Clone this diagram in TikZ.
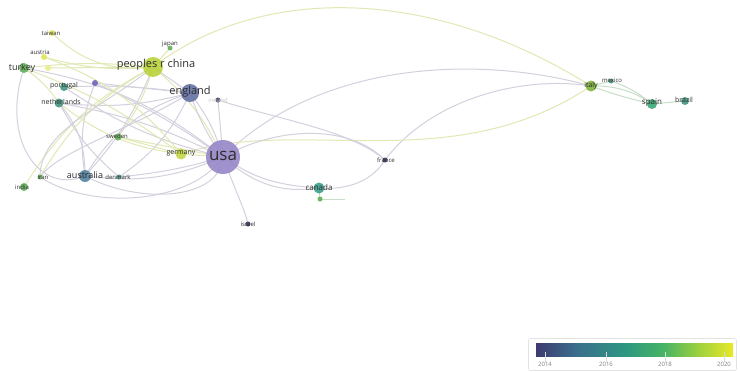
\documentclass[tikz,border=0pt]{standalone}
\usepackage{fontspec}
\setmainfont{Open Sans}
\pgfdeclarelayer{background}
\pgfsetlayers{background,main}
\definecolor{cusa}{RGB}{150,135,200}
\definecolor{ceng}{RGB}{100,115,165}
\definecolor{cchina}{RGB}{185,210,60}
\definecolor{cgerm}{RGB}{195,215,70}
\definecolor{cyel}{RGB}{225,230,90}
\definecolor{cgreen}{RGB}{100,175,90}
\definecolor{cteal}{RGB}{70,150,130}
\definecolor{caus}{RGB}{85,130,160}
\definecolor{ccan}{RGB}{60,160,140}
\definecolor{citaly}{RGB}{125,180,60}
\definecolor{cspain}{RGB}{60,170,120}
\definecolor{cdark}{RGB}{60,60,100}
\definecolor{cpurp}{RGB}{110,100,180}
\definecolor{edgeA}{RGB}{212,208,222}
\definecolor{edgeB}{RGB}{226,232,180}
\definecolor{edgeC}{RGB}{200,222,200}
\definecolor{lbl}{RGB}{45,45,45}
\definecolor{v1}{RGB}{62,58,112}
\definecolor{v2}{RGB}{58,110,140}
\definecolor{v3}{RGB}{45,150,130}
\definecolor{v4}{RGB}{70,180,100}
\definecolor{v5}{RGB}{160,210,60}
\definecolor{v6}{RGB}{232,232,40}
\tikzset{
  vn/.style={circle, inner sep=0pt, minimum size=#1, fill opacity=0.9},
  lab/.style={text=lbl, inner sep=0pt, font=\fontsize{#1}{#1}\selectfont},
  faint/.style={text=lbl!25, inner sep=0pt, font=\fontsize{6}{6}\selectfont},
  ea/.style={draw=edgeA, line width=1pt},
  eb/.style={draw=edgeB, line width=1pt},
  ec/.style={draw=edgeC, line width=1pt},
  tick/.style={draw=white!70!gray, line width=0.5pt}
}
\begin{document}
\begin{tikzpicture}[x=1pt,y=-1pt]
\useasboundingbox (0,0) rectangle (740,372);
% nodes
\node[vn=34, fill=cusa] (usa) at (223,157) {};
\node[vn=18, fill=ceng] (england) at (190,93) {};
\node[vn=5, fill=cdark] (ireland) at (218,100) {};
\node[vn=20, fill=cchina] (china) at (153,67) {};
\node[vn=5, fill=cgreen] (japan) at (170,48) {};
\node[vn=6, fill=cyel] (taiwan) at (52,33) {};
\node[vn=6, fill=cyel] (austria) at (44,57) {};
\node[vn=10, fill=cgreen] (turkey) at (24,68) {};
\node[vn=6, fill=cyel!70!white] (korea) at (48,68) {};
\node[vn=8, fill=cteal] (portugal) at (64,87) {};
\node[vn=6, fill=cpurp] (scot) at (95,83) {};
\node[vn=9, fill=cteal] (neth) at (59,103) {};
\node[vn=7, fill=cgreen] (sweden) at (118,137) {};
\node[vn=11, fill=cgerm] (germany) at (181,154) {};
\node[vn=5, fill=cgreen] (iran) at (40,177) {};
\node[vn=8, fill=cgreen] (india) at (24,187) {};
\node[vn=12, fill=caus] (australia) at (85,176) {};
\node[vn=5, fill=cteal] (denmark) at (119,177) {};
\node[vn=11, fill=ccan] (canada) at (319,188) {};
\node[vn=5, fill=cgreen] (sing) at (320,199) {};
\node[vn=5, fill=cdark] (israel) at (248,224) {};
\node[vn=5, fill=cdark] (france) at (385,160) {};
\node[vn=11, fill=citaly] (italy) at (591,86) {};
\node[vn=5, fill=cteal] (mexico) at (611,81) {};
\node[vn=10, fill=cspain] (spain) at (652,104) {};
\node[vn=8, fill=cteal] (brazil) at (685,101) {};
% labels
\node[lab=17] (lusa) at (223,156) {usa};
\node[lab=11] (leng) at (190,92) {england};
\node[faint] (lire) at (218,100) {ireland};
\node[lab=11] (lchina) at (156,65) {peoples r china};
\node[lab=6] (ljapan) at (170,44) {japan};
\node[lab=6] (ltaiwan) at (51,33) {taiwan};
\node[lab=6] (laustria) at (40,52) {austria};
\node[lab=9] (lturkey) at (22,68) {turkey};
\node[lab=7] (lport) at (64,86) {portugal};
\node[lab=7] (lneth) at (61,102) {netherlands};
\node[lab=6] (lsweden) at (117,136) {sweden};
\node[lab=7] (lgerm) at (181,153) {germany};
\node[lab=6] (liran) at (43,177) {iran};
\node[lab=6] (lindia) at (22,187) {india};
\node[lab=9] (laus) at (85,175) {australia};
\node[lab=6] (lden) at (118,177) {denmark};
\node[lab=8] (lcan) at (319,187) {canada};
\node[lab=6] (lisrael) at (248,224) {israel};
\node[lab=6] (lfrance) at (386,160) {france};
\node[lab=7] (litaly) at (591,86) {italy};
\node[lab=6] (lmexico) at (612,80) {mexico};
\node[lab=8] (lspain) at (652,103) {spain};
\node[lab=7] (lbrazil) at (684,100) {brazil};
% legend
\node[draw=white!78!gray, line width=0.6pt, rounded corners=1.5pt, minimum width=208pt, minimum height=32pt, inner sep=0pt] (legend) at (632.5,354.5) {};
\node[lab=6, text=gray] (y14) at (545,364) {2014};
\node[lab=6, text=gray] (y16) at (606,364) {2016};
\node[lab=6, text=gray] (y18) at (665,364) {2018};
\node[lab=6, text=gray] (y20) at (724,364) {2020};
\begin{pgfonlayer}{background}
\fill[white] (0,0) rectangle (740,372);
% colour bar
\shade[left color=v1, right color=v2] (536,343) rectangle (576,356);
\shade[left color=v2, right color=v3] (575.5,343) rectangle (625,356);
\shade[left color=v3, right color=v4] (624.5,343) rectangle (664,356);
\shade[left color=v4, right color=v5] (663.5,343) rectangle (700,356);
\shade[left color=v5, right color=v6] (699.5,343) rectangle (733,356);
\draw[tick] (545,352) -- (y14.north);
\draw[tick] (606,352) -- (y16.north);
\draw[tick] (665,352) -- (y18.north);
\draw[tick] (724,352) -- (y20.north);
% long arcs
\draw[eb] (china.center) .. controls (260,-15) and (430,-15) .. (italy.center);
\draw[ea] (usa.center) .. controls (320,60) and (480,55) .. (italy.center);
\draw[ea] (france.center) .. controls (430,100) and (520,75) .. (italy.center);
\draw[eb] (germany.center) .. controls (300,115) and (450,180) .. (italy.center);
\draw[ea] (ireland.center) .. controls (280,120) and (350,130) .. (france.center);
\draw[ea] (usa.center) .. controls (280,125) and (350,125) .. (france.center);
\draw[ea] (france.center) .. controls (370,185) and (340,190) .. (canada.center);
\draw[ea] (usa.center) .. controls (260,190) and (290,192) .. (canada.center);
\draw[ea] (usa.center) .. controls (250,175) and (270,185) .. (canada.center);
\draw[ec] (canada.center) -- (sing.center);
\draw[ec] (sing.center) -- (345,199);
\draw[ea] (usa.center) .. controls (235,190) and (245,210) .. (israel.center);
% right cluster
\draw[ec] (italy.center) -- (mexico.center);
\draw[ec] (italy.center) .. controls (620,85) and (640,95) .. (spain.center);
\draw[ec] (italy.center) .. controls (615,95) and (635,100) .. (spain.center);
\draw[ec] (mexico.center) to[bend left=10] (spain.center);
\draw[ec] (spain.center) -- (brazil.center);
% left cluster
\draw[eb] (china.center) to[bend left=12] (usa.center);
\draw[ea] (england.center) to[bend right=8] (usa.center);
\draw[ea] (england.center) to[bend left=10] (usa.center);
\draw[ea] (ireland.center) -- (usa.center);
\draw[ea] (china.center) -- (england.center);
\draw[eb] (turkey.center) to[bend left=6] (china.center);
\draw[eb] (taiwan.center) to[bend right=25] (china.center);
\draw[eb] (austria.center) to[bend right=10] (china.center);
\draw[eb] (japan.center) -- (china.center);
\draw[ea] (portugal.center) to[bend left=5] (england.center);
\draw[ea] (neth.center) to[bend right=10] (england.center);
\draw[ea] (neth.center) to[bend left=8] (usa.center);
\draw[ea] (portugal.center) to[bend right=10] (usa.center);
\draw[eb] (turkey.center) to[bend left=8] (germany.center);
\draw[ea] (turkey.center) to[bend left=14] (usa.center);
\draw[ea] (scot.center) -- (england.center);
\draw[ea] (scot.center) to[bend left=5] (usa.center);
\draw[ea] (scot.center) to[bend right=15] (australia.center);
\draw[eb] (sweden.center) -- (usa.center);
\draw[eb] (sweden.center) to[bend right=10] (china.center);
\draw[eb] (sweden.center) -- (germany.center);
\draw[eb] (germany.center) -- (usa.center);
\draw[ea] (australia.center) to[bend right=15] (usa.center);
\draw[ea] (denmark.center) to[bend right=5] (usa.center);
\draw[ea] (iran.center) .. controls (90,210) and (190,205) .. (usa.center);
\draw[eb] (india.center) to[bend left=15] (china.center);
\draw[ea] (neth.center) to[bend left=20] (australia.center);
\draw[ea] (neth.center) to[bend right=10] (denmark.center);
\draw[ea] (china.center) to[bend left=10] (australia.center);
\draw[ea] (england.center) to[bend right=20] (australia.center);
\draw[ea] (england.center) to[bend left=15] (denmark.center);
\draw[ea] (turkey.center) .. controls (0,140) and (40,195) .. (australia.center);
\draw[eb] (iran.center) to[bend left=15] (china.center);
\draw[eb] (turkey.center) to[bend left=10] (neth.center);
\draw[eb] (neth.center) to[bend right=15] (germany.center);
\draw[eb] (austria.center) to[bend left=15] (germany.center);
\draw[ea] (china.center) .. controls (100,110) and (40,130) .. (iran.center);
\draw[ea] (australia.center) .. controls (140,205) and (220,200) .. (usa.center);
\draw[eb] (korea.center) -- (china.center);
\draw[ea] (england.center) .. controls (130,130) and (60,150) .. (iran.center);
\end{pgfonlayer}
\end{tikzpicture}
\end{document}
